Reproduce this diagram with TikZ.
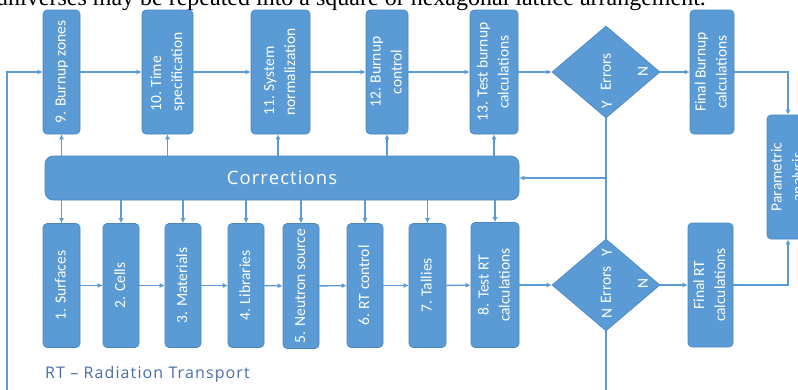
\documentclass[tikz,border=0pt]{standalone}
\usepackage{fontspec}
\setmainfont{Carlito}
\newfontfamily\serifx{Liberation Serif}
\newfontfamily\segoe[LetterSpace=6]{Open Sans}
\newfontfamily\segoeleg[LetterSpace=7]{Open Sans}
\usetikzlibrary{shapes.geometric,arrows.meta}
\definecolor{bfill}{HTML}{5B9BD5}
\definecolor{bdraw}{HTML}{4A86C0}
\definecolor{lcol}{HTML}{5B9BD5}
\definecolor{legc}{HTML}{4A6DAA}
\newcommand\myrot[1]{\rotatebox{90}{\begin{tabular}{@{}c@{}}#1\end{tabular}}}
\newcommand\myrotl[1]{\rotatebox{90}{\begin{tabular}{@{}l@{}}#1\end{tabular}}}
\begin{document}
\begin{tikzpicture}[x=1pt,y=-1pt,
 box/.style={draw=bdraw, line width=0.6pt, fill=bfill, rounded corners=4pt, inner sep=0pt, text=white, font=\fontsize{15.5}{21}\selectfont},
 dia/.style={diamond, draw=bdraw, line width=0.6pt, fill=bfill, inner sep=0pt, minimum width=108pt, minimum height=92pt, text=white, font=\fontsize{15.5}{18}\selectfont},
 lbl/.style={text=white, inner sep=0pt, font=\fontsize{15.5}{18}\selectfont},
 arr/.style={draw=lcol, line width=1.4pt, -{Latex[length=5pt,width=5pt]}},
 ln/.style={draw=lcol, line width=1.4pt}]
\useasboundingbox (0,0) rectangle (798,389);
\clip (0,0) rectangle (798,389);
\fill[white] (0,0) rectangle (798,389);

\node[anchor=base west, inner sep=0pt, text=black, font=\serifx\fontsize{24}{24}\selectfont] (top) at (-4,5.5) {universes may be repeated into a square or hexagonal lattice arrangement.};

% top row
\node[box, minimum width=37pt, minimum height=124pt] (b9) at (61.5,72) {\myrot{9. Burnup zones}};
\node[box, minimum width=51pt, minimum height=124pt] (b10) at (167.5,72) {\myrotl{10. Time\\specification}};
\node[box, minimum width=59pt, minimum height=124pt] (b11) at (280.5,72) {\myrotl{11. System\\normalization}};
\node[box, minimum width=40pt, minimum height=124pt] (b12) at (387,72) {\myrot{12. Burnup\\control}};
\node[box, minimum width=48pt, minimum height=124pt] (b13) at (494,72) {\myrot{13. Test burnup\\calculations}};
\node[dia] (d1) at (606,72) {\rotatebox{90}{Errors}};
\node[lbl] (d1n) at (643,71) {\rotatebox{90}{N}};
\node[lbl] (d1y) at (607,105) {\rotatebox{90}{Y}};
\node[box, minimum width=44pt, minimum height=124pt] (fb) at (712,72) {\myrot{Final Burnup\\calculations}};
\node[box, minimum width=34pt, minimum height=124pt] (pa) at (788,177) {\myrot{Parametric\\analysis}};

% corrections
\node[box, minimum width=474pt, minimum height=44pt, rounded corners=8pt, font=\segoe\fontsize{18.5}{22}\selectfont] (corr) at (282,178) {Corrections};

% bottom row
\node[box, minimum width=37pt, minimum height=124pt] (b1) at (61.5,285.5) {\myrot{1. Surfaces}};
\node[box, minimum width=36pt, minimum height=124pt] (b2) at (121,285.5) {\myrot{2. Cells}};
\node[box, minimum width=36pt, minimum height=124pt] (b3) at (183,285.5) {\myrot{3. Materials}};
\node[box, minimum width=36pt, minimum height=124pt] (b4) at (246,285.5) {\myrot{4. Libraries}};
\node[box, minimum width=36pt, minimum height=125pt] (b5) at (301,286) {\myrot{5. Neutron source}};
\node[box, minimum width=36pt, minimum height=124pt] (b6) at (365,285.5) {\myrot{6. RT control}};
\node[box, minimum width=37pt, minimum height=124pt] (b7) at (427.5,285.5) {\myrot{7. Tallies}};
\node[box, minimum width=48pt, minimum height=125pt] (b8) at (495,285) {\myrot{8. Test RT\\calculations}};
\node[dia] (d2) at (606,285) {\rotatebox{90}{Errors}};
\node[lbl] (d2y) at (607,253) {\rotatebox{90}{Y}};
\node[lbl] (d2n) at (643,283) {\rotatebox{90}{N}};
\node[lbl] (d2m) at (607,313) {\rotatebox{90}{N}};
\node[box, minimum width=45pt, minimum height=124pt] (fr) at (710.5,285) {\myrot{Final RT\\calculations}};

\node[anchor=base west, inner sep=0pt, text=legc, font=\segoeleg\fontsize{16}{18}\selectfont] (leg) at (45,378) {RT – Radiation Transport};

% top flow
\draw[arr] (b9) -- (b10);
\draw[arr] (b10) -- (b11);
\draw[arr] (b11) -- (b12);
\draw[arr] (b12) -- (b13);
\draw[arr] (b13) -- (d1);
\draw[arr] (d1) -- (fb);
\draw[arr] (fb.east) -| (pa.north);

% bottom flow
\draw[arr] (b1) -- (b2);
\draw[arr] (b2) -- (b3);
\draw[arr] (b3) -- (b4);
\draw[arr] (b4) -- (b5);
\draw[arr] (b5) -- (b6);
\draw[arr] (b6) -- (b7);
\draw[arr] (b7) -- (b8);
\draw[arr] (b8) -- (d2);
\draw[arr] (d2) -- (fr);
\draw[arr] (fr.east) -| (pa.south);

% corrections up
\foreach \n in {b9,b10,b12,b13} \draw[arr] (corr.north -| \n.south) -- (\n.south);
\coordinate (c11) at (278,156);
\draw[arr] (c11) -- (c11 |- b11.south);
% corrections down
\foreach \n in {b1,b2,b3,b4,b5,b6,b7,b8} \draw[arr] (corr.south -| \n.north) -- (\n.north);

% error feedback
\draw[ln] (d1.south) -- (d2.north);
\draw[arr] (d1.south |- corr.east) -- (corr.east);
\coordinate (db) at (606,420);
\coordinate (lb) at (7,420);
\draw[arr] (d2.south) -- (db) -- (lb) |- (b9.west);
\end{tikzpicture}
\end{document}
